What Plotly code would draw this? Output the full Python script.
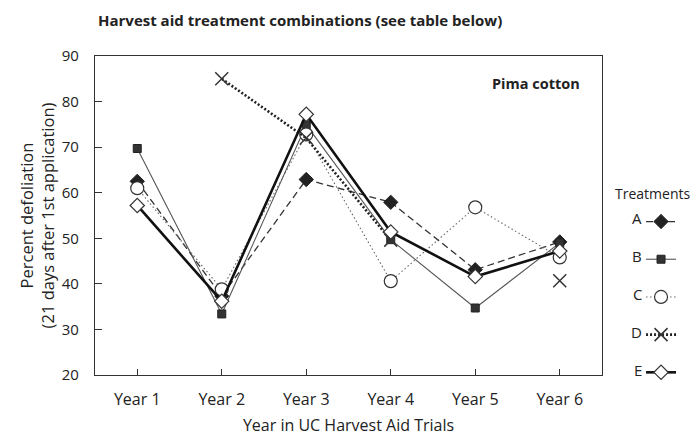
import plotly.graph_objects as go

years = [1, 2, 3, 4, 5, 6]
year_labels = ["Year 1", "Year 2", "Year 3", "Year 4", "Year 5", "Year 6"]
y_ticks = [20, 30, 40, 50, 60, 70, 80, 90]

treat_names = ["A", "B", "C", "D", "E"]
treat_A = [62.5, 37.3, 62.9, 57.9, 43.1, 49.2]
treat_B = [69.7, 33.4, 74.9, 49.7, 34.7, 49.0]
treat_C = [61.0, 38.8, 72.8, 40.6, 56.8, 45.8]
treat_D = [None, 85.0, 72.0, 49.6, None, 40.7]
treat_E = [57.2, 36.2, 77.2, 51.4, 41.6, 47.2]

FONT = "Open Sans"
INK = "#222222"

fig = go.Figure()

series = [
    (treat_A, dict(color="#333333", width=1.3, dash="7px,4px"),
     dict(symbol="diamond", size=11, color="#222222", line=dict(color="#222222", width=1))),
    (treat_B, dict(color="#555555", width=1.1),
     dict(symbol="square", size=8, color="#333333", line=dict(color="#222222", width=1))),
    (treat_C, dict(color="#666666", width=1.1, dash="1.5px,2.5px"),
     dict(symbol="circle", size=13, color="white", line=dict(color="#333333", width=1.2))),
    (treat_D, dict(color="#222222", width=2.6, dash="2px,2px"),
     dict(symbol="x-thin-open", size=13, color="#333333", line=dict(color="#333333", width=1.5))),
    (treat_E, dict(color="#111111", width=2.6),
     dict(symbol="diamond", size=11, color="white", line=dict(color="#333333", width=1.2))),
]

for name, (vals, line, marker) in zip(treat_names, series):
    fig.add_trace(go.Scatter(
        x=years, y=vals, name=" ", mode="lines+markers",
        line=line, marker=marker, connectgaps=False,
        legendgroup=name, hovertext=name,
    ))

# legend letters placed to the left of each legend line, like the original
row_y = [0.493, 0.374, 0.255, 0.135, 0.016]
annotations = [
    dict(text="<b>Harvest aid treatment combinations (see table below)</b>",
         xref="paper", yref="paper", x=0.002, y=1.114, xanchor="left", yanchor="middle",
         showarrow=False, font=dict(size=15, family=FONT, color=INK)),
    dict(text="<b>Pima cotton</b>",
         xref="paper", yref="paper", x=0.96, y=0.915, xanchor="right", yanchor="middle",
         showarrow=False, font=dict(size=14.5, family=FONT, color=INK)),
    dict(text="Treatments",
         xref="paper", yref="paper", x=1.178, y=0.5705, xanchor="right", yanchor="middle",
         showarrow=False, font=dict(size=14, family=FONT, color=INK)),
]
for name, yy in zip(treat_names, row_y):
    annotations.append(dict(
        text=name, xref="paper", yref="paper", x=1.082, y=yy,
        xanchor="right", yanchor="middle", showarrow=False,
        font=dict(size=15, family=FONT, color=INK)))

# the page body adds an 8px offset; size the figure so the plot box lands
# where the original's does and nothing is pushed past the window edge
fig.update_layout(
    width=691, height=428,
    margin=dict(l=87, r=97, t=48, b=61, autoexpand=False),
    paper_bgcolor="white", plot_bgcolor="white",
    font=dict(family=FONT, size=14, color=INK),
    showlegend=True,
    legend=dict(
        x=1.077, xanchor="left", y=0.53, yanchor="top",
        font=dict(size=14, family=FONT, color=INK),
        tracegroupgap=16.5, itemwidth=30,
        bgcolor="rgba(0,0,0,0)",
    ),
    xaxis=dict(
        range=[0.5, 6.5], tickvals=years, ticktext=year_labels,
        ticks="inside", ticklen=6, tickcolor="#333",
        showline=True, linecolor="#333", linewidth=1.3, mirror=True,
        showgrid=False, zeroline=False, automargin=False,
        tickfont=dict(size=16), ticklabelstandoff=10,
        title=dict(text="Year in UC Harvest Aid Trials", standoff=13, font=dict(size=16)),
    ),
    yaxis=dict(
        range=[20, 90], tickvals=y_ticks,
        ticks="inside", ticklen=7, tickcolor="#333",
        showline=True, linecolor="#333", linewidth=1.3, mirror=True,
        showgrid=False, zeroline=False, automargin=False,
        tickfont=dict(size=15), ticklabelstandoff=12,
        title=dict(text="Percent defoliation<br>(21 days after 1st application)",
                   standoff=2, font=dict(size=16.5)),
    ),
    annotations=annotations,
)

fig.write_html("out.html")
